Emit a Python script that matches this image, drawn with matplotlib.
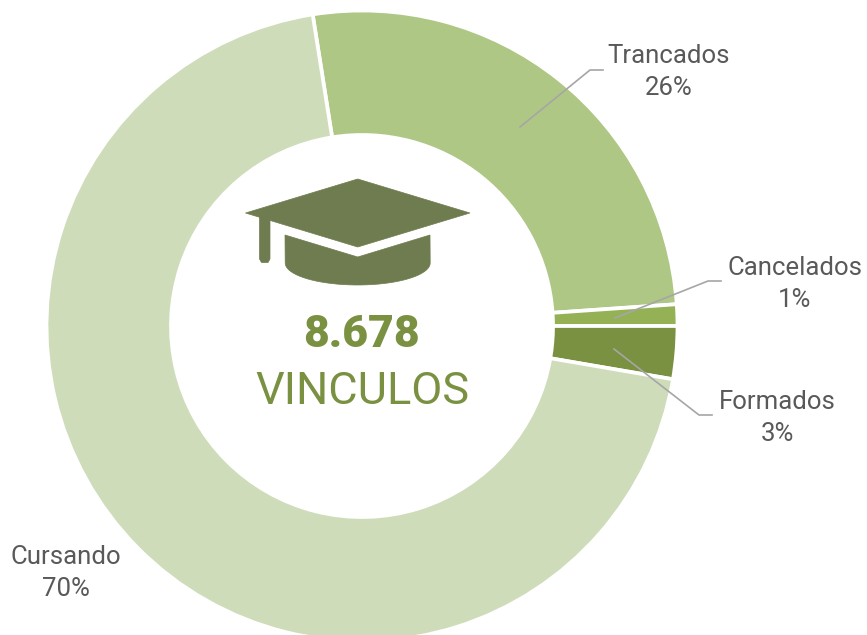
import matplotlib
matplotlib.use("Agg")
import matplotlib.pyplot as plt
import numpy as np
from matplotlib.patches import Polygon

plt.rcParams["font.family"] = ["Roboto", "DejaVu Sans"]

categories = ["Trancados", "Cancelados", "Formados", "Cursando"]
values = [26.4, 1.1, 2.7, 69.8]
pct_labels = ["26%", "1%", "3%", "70%"]
colors = ["#AFC785", "#94B255", "#7A9142", "#CFDCBA"]
total_label = "8.678"
center_label = "VINCULOS"

W, H = 867, 635
CX, CY = 362, H - 326
R_OUT, R_IN = 315.5, 191

# label centre and leader line per category, in image pixels (y down)
label_pos = [(669, 72), (795, 284), (777, 418), (66, 573)]
leaders = [
    [(520, 127), (590, 70), (603, 70)],
    [(615, 318), (708, 281), (721, 281)],
    [(614, 349), (699, 415), (712, 415)],
    None,
]

# graduation cap outline, image pixels
cap_board = [(357.7, 179), (470, 213), (357.7, 247), (245.5, 213)]
t = np.linspace(0, np.pi, 40)
cap_base = [(285, 235), (357.7, 257), (430, 235)] + list(
    zip(357.7 + 72.5 * np.cos(t), 263 + 22 * np.sin(t))
)
cap_tassel = [(259.5, 216), (270, 220), (270, 259), (268, 262.5), (261.5, 262.5), (259.5, 259)]
cap_color = "#6F7C50"


def flip(points):
    return [(x, H - y) for x, y in points]


fig = plt.figure(figsize=(W / 100, H / 100), dpi=100)
ax = fig.add_axes([0, 0, 1, 1])
ax.pie(
    values,
    colors=colors,
    startangle=99,
    counterclock=False,
    center=(CX, CY),
    radius=R_OUT,
    frame=True,
    wedgeprops={"width": R_OUT - R_IN, "edgecolor": "white", "linewidth": 2.7},
)
ax.set_xlim(0, W)
ax.set_ylim(0, H)
ax.set_aspect("equal")
ax.axis("off")

for pts in (cap_board, cap_base, cap_tassel):
    ax.add_patch(Polygon(flip(pts), closed=True, facecolor=cap_color, edgecolor=cap_color, linewidth=0.5))

for line in leaders:
    if line is None:
        continue
    xs, ys = zip(*flip(line))
    ax.plot(xs, ys, color="#A6A6A6", linewidth=1.2)

for name, pct, (x, y) in zip(categories, pct_labels, label_pos):
    ax.text(x, H - y, f"{name}\n{pct}", ha="center", va="center", fontsize=18.5,
            color="#595959", linespacing=1.4)

ax.text(361, H - 335, total_label, ha="center", va="center", fontsize=32,
        fontweight="black", color="#7A9142")
ax.text(362, H - 392, center_label, ha="center", va="center", fontsize=32.5,
        fontweight="normal", color="#7A9142")

fig.savefig("out.png", dpi=100)
